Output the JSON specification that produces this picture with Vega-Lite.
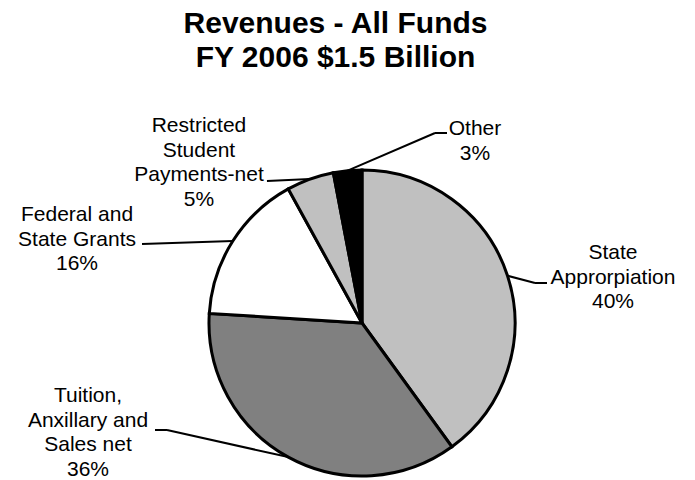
{
  "$schema": "https://vega.github.io/schema/vega-lite/v6.json",
  "width": 695,
  "height": 405,
  "autosize": "none",
  "padding": {"top": 75, "left": 0, "right": 0, "bottom": 0},
  "background": "white",
  "config": {"view": {"stroke": null}},
  "title": {
    "text": ["Revenues - All Funds", "FY 2006 $1.5 Billion"],
    "font": "Liberation Sans",
    "fontSize": 30,
    "fontWeight": "bold",
    "lineHeight": 34,
    "color": "black",
    "anchor": "middle",
    "frame": "group",
    "dx": -12,
    "offset": 2
  },
  "data": {
    "values": [
      {"category": "State Approrpiation", "label": "State\nApprorpiation", "value": 40},
      {"category": "Tuition, Anxillary and Sales net", "label": "Tuition,\nAnxillary and\nSales net", "value": 36},
      {"category": "Federal and State Grants", "label": "Federal and\nState Grants", "value": 16},
      {"category": "Restricted Student Payments-net", "label": "Restricted\nStudent\nPayments-net", "value": 5},
      {"category": "Other", "label": "Other", "value": 3}
    ]
  },
  "transform": [
    {"stack": "value", "groupby": [], "sort": [{"field": "value", "order": "descending"}], "as": ["v0", "v1"]},
    {"calculate": "PI * (datum.v0 + datum.v1) / 100", "as": "mid"},
    {"calculate": "153 * sin(datum.mid)", "as": "ex"},
    {"calculate": "153 * cos(datum.mid)", "as": "ey"},
    {"calculate": "{'State Approrpiation': [27.5, -7.3, 39.5, 105.5, 16.7], 'Tuition, Anxillary and Sales net': [-121.3, 27.1, -133.3, -200.3, 55.1], 'Federal and State Grants': [-90.8, -3, -90.8, -155.8, 20], 'Restricted Student Payments-net': [-43.2, -2, -43.2, -111.2, 47], 'Other': [87.4, 37.7, 99.4, 127.4, 35.7]}[datum.category]", "as": "L"},
    {"calculate": "datum.ex + datum.L[0]", "as": "bx"},
    {"calculate": "datum.ey + datum.L[1]", "as": "by"},
    {"calculate": "datum.ex + datum.L[2]", "as": "hx"},
    {"calculate": "datum.ex + datum.L[3]", "as": "tx"},
    {"calculate": "datum.ey + datum.L[4]", "as": "ty"},
    {"calculate": "datum.label + '\\n' + datum.value + '%'", "as": "text"}
  ],
  "layer": [
    {
      "mark": {"type": "arc", "radius": 153, "stroke": "black", "strokeWidth": 3},
      "encoding": {
        "x": {"datum": 0, "type": "quantitative", "scale": {"domain": [-362, 333], "nice": false, "zero": false}, "axis": null},
        "y": {"datum": 0, "type": "quantitative", "scale": {"domain": [-157, 248], "nice": false, "zero": false}, "axis": null},
        "theta": {"field": "value", "type": "quantitative", "stack": true},
        "order": {"field": "value", "sort": "descending"},
        "color": {
          "field": "category",
          "type": "nominal",
          "scale": {
            "domain": ["State Approrpiation", "Tuition, Anxillary and Sales net", "Federal and State Grants", "Restricted Student Payments-net", "Other"],
            "range": ["#C0C0C0", "#808080", "#FFFFFF", "#C0C0C0", "#000000"]
          },
          "legend": null
        }
      }
    },
    {
      "mark": {"type": "rule", "stroke": "black", "strokeWidth": 2},
      "encoding": {
        "x": {"field": "ex", "type": "quantitative", "scale": {"domain": [-362, 333], "nice": false, "zero": false}, "axis": null},
        "y": {"field": "ey", "type": "quantitative", "scale": {"domain": [-157, 248], "nice": false, "zero": false}, "axis": null},
        "x2": {"field": "bx"},
        "y2": {"field": "by"}
      }
    },
    {
      "mark": {"type": "rule", "stroke": "black", "strokeWidth": 2},
      "encoding": {
        "x": {"field": "bx", "type": "quantitative", "scale": {"domain": [-362, 333], "nice": false, "zero": false}, "axis": null},
        "y": {"field": "by", "type": "quantitative", "scale": {"domain": [-157, 248], "nice": false, "zero": false}, "axis": null},
        "x2": {"field": "hx"},
        "y2": {"field": "by"}
      }
    },
    {
      "mark": {"type": "text", "font": "Liberation Sans", "fontSize": 21, "lineHeight": 24.7, "align": "center", "baseline": "alphabetic", "lineBreak": "\n", "color": "black"},
      "encoding": {
        "x": {"field": "tx", "type": "quantitative", "scale": {"domain": [-362, 333], "nice": false, "zero": false}, "axis": null},
        "y": {"field": "ty", "type": "quantitative", "scale": {"domain": [-157, 248], "nice": false, "zero": false}, "axis": null},
        "text": {"field": "text"}
      }
    }
  ]
}
